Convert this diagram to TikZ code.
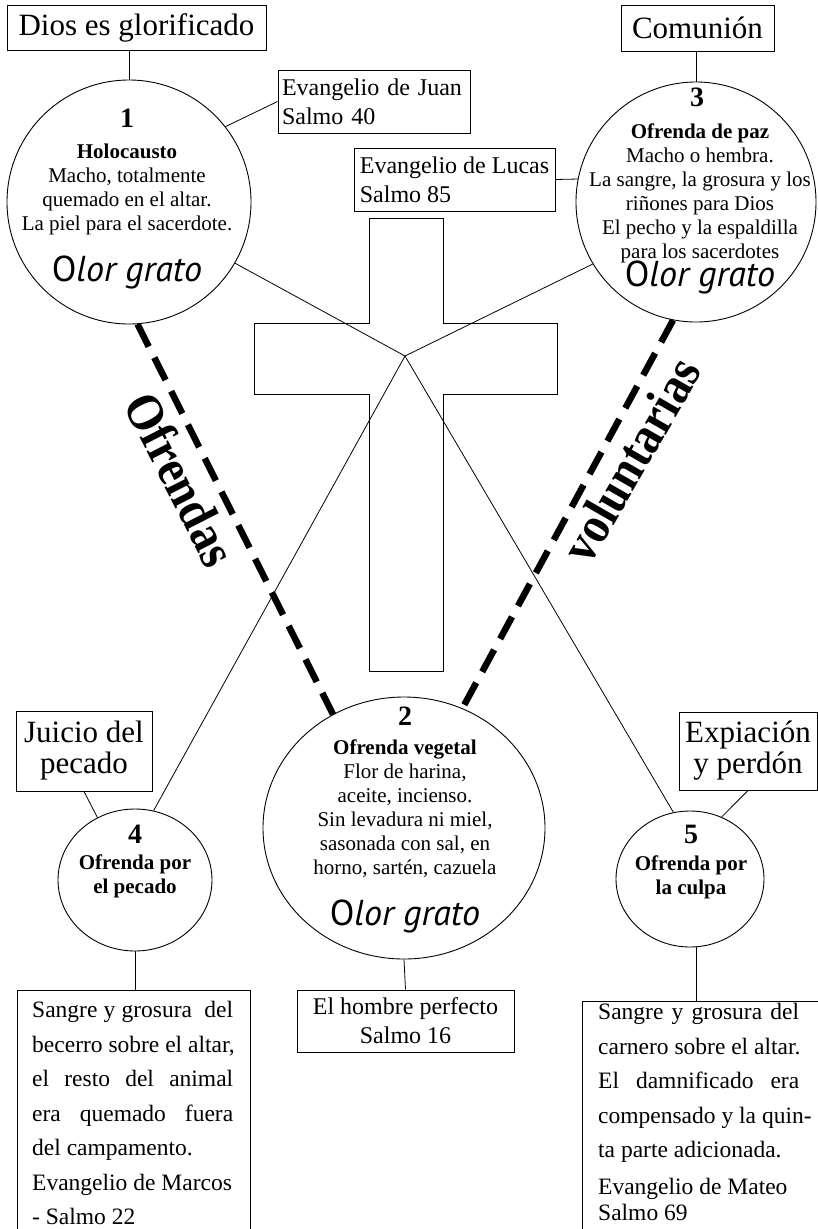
\documentclass[tikz,border=0pt]{standalone}
\usepackage{fontspec}
\setmainfont{Liberation Serif}
\newfontfamily\olorfont{PT Sans}
\usetikzlibrary{shapes.geometric}
\newcommand\jline[1]{\leavevmode\hbox to 201pt{#1}}
\newcommand\widespaces{\spaceskip=0.25em plus 3em\relax}
\begin{document}
\begin{tikzpicture}[x=1pt,y=-1pt,
  thinln/.style={line width=0.8pt},
  box/.style={draw, line width=0.9pt, inner sep=0pt, align=center},
  ring/.style={draw, line width=0.9pt, circle, inner sep=0pt},
  oval/.style={draw, line width=0.9pt, ellipse, inner sep=0pt},
  dashline/.style={line width=6.5pt, dash pattern=on 25pt off 12.5pt},
  num/.style={font=\fontsize{28}{28}\selectfont\bfseries, inner sep=0pt},
  body/.style={font=\fontsize{21}{24}\selectfont, align=center, inner sep=0pt},
  bodybf/.style={font=\fontsize{21}{24}\selectfont\bfseries, align=center, inner sep=0pt},
  olor/.style={font=\olorfont\fontsize{36}{36}\selectfont\itshape, inner sep=0pt},
  big/.style={font=\fontsize{31}{31}\selectfont},
  mid/.style={font=\fontsize{24}{29}\selectfont},
  para/.style={font=\fontsize{23.5}{34.5}\selectfont, text width=230pt, align=left, inner sep=0pt},
  vert/.style={font=\fontsize{52}{52}\selectfont\bfseries, inner sep=0pt}
]
\useasboundingbox (0,0) rectangle (818,1229);
\clip (0,0) rectangle (818,1229);

% cross
\draw[thinln] (369,218) -- (443,218) -- (443,323) -- (557,323) -- (557,394) -- (443,394)
  -- (443,671) -- (369,671) -- (369,394) -- (254,394) -- (254,323) -- (369,323) -- cycle;

% circles
\node[ring, minimum size=244pt] (c1) at (129,202) {};
\node[ring, minimum size=240pt] (c3) at (696,202) {};
\node[oval, minimum width=282pt, minimum height=262pt] (c2) at (404,828) {};
\node[oval, minimum width=154pt, minimum height=142pt] (c4) at (135,880) {};
\node[oval, minimum width=148pt, minimum height=136pt] (c5) at (690,879) {};

% boxes
\node[box, big, minimum width=259pt, minimum height=45pt] (dios) at (136.5,27.5) {Dios es glorificado};
\node[box, big, minimum width=153pt, minimum height=46pt] (comu) at (697.5,28) {Comunión};
\node[box, mid, minimum width=192pt, minimum height=63pt, text width=184pt, align=left] (juan) at (374,101.5) {Evangelio de Juan\\Salmo 40};
\node[box, mid, minimum width=201pt, minimum height=63pt, align=left] (lucas) at (454.5,179.5) {Evangelio de Lucas\\Salmo 85};
\node[box, big, minimum width=136pt, minimum height=80pt] (juicio) at (84,751) {Juicio del\\pecado};
\node[box, big, minimum width=138pt, minimum height=78pt] (expi) at (748,751) {Expiación\\y perdón};
\node[box, mid, minimum width=217pt, minimum height=62pt] (hombre) at (405.5,1021) {El hombre perfecto\\Salmo 16};
\node[draw, line width=0.9pt, inner sep=0pt, minimum width=233pt, minimum height=300pt, anchor=north] (bl) at (133.5,990) {};
\node[draw, line width=0.9pt, inner sep=0pt, minimum width=236pt, minimum height=300pt, anchor=north west] (br) at (582,1001) {};

% texts in circles
\node[num] (n1) at (127,118) {1};
\node[body] (b1) at (127,189) {\textbf{Holocausto}\\Macho, totalmente\\quemado en el altar.\\La piel para el sacerdote.};
\node[olor] (o1) at (127,272) {{\upshape O}lor grato};

\node[num] (n3) at (697,97) {3};
\node[body] (b3) at (700,193) {\textbf{Ofrenda de paz}\\Macho o hembra.\\La sangre, la grosura y los\\riñones para Dios\\El pecho y la espaldilla\\para los sacerdotes};
\node[olor] (o3) at (700,277) {{\upshape O}lor grato};

\node[num] (n2) at (405,716) {2};
\node[body] (b2) at (405,809) {\textbf{Ofrenda vegetal}\\Flor de harina,\\aceite, incienso.\\Sin levadura ni miel,\\sasonada con sal, en\\horno, sartén, cazuela};
\node[olor] (o2) at (405,916) {{\upshape O}lor grato};

\node[num] (n4) at (135,834) {4};
\node[bodybf] (b4) at (135,876) {Ofrenda por\\el pecado};
\node[num] (n5) at (691,834) {5};
\node[bodybf] (b5) at (691,877) {Ofrenda por\\la culpa};

% paragraphs in bottom boxes
\node[para, anchor=north west] (blt) at (32,1001) {\widespaces
\jline{Sangre y grosura\ \ del}\\
\jline{becerro sobre el altar,}\\
\jline{el resto del animal}\\
\jline{era quemado fuera}\\
del campamento.\\
Evangelio de Marcos\\
- Salmo 22};
\node[para, anchor=north west] (brt) at (598,1003) {\widespaces
\jline{Sangre y grosura del}\\
\jline{carnero sobre el altar.}\\
\jline{El damnificado era}\\
\jline{compensado y la quin-}\\
ta parte adicionada.\\[2pt]
Evangelio de Mateo\\[-8pt]
Salmo 69};

% rotated labels
\node[vert, rotate=-63] (ofr) at (181,479) {\scalebox{0.9}[1]{Ofrendas}};
\node[vert, rotate=60] (vol) at (631,460) {\scalebox{0.9}[1]{voluntarias}};

% connectors
\coordinate (P) at (405,356);
\draw[thinln] (c1.-30) -- (P) -- (c5.104);
\draw[thinln] (c3.-149) -- (P) -- (c4.75);
\draw[thinln] (c1.north |- dios.south) -- (c1.north);
\draw[thinln] (c3.north |- comu.south) -- (c3.north);
\draw[thinln] (juan.west) -- (c1.38);
\draw[thinln] (lucas.east) -- (c3.169);
\draw[thinln] (juicio.south) -- (c4.121);
\draw[thinln] (expi.south) -- (c5.63);
\draw[thinln] (c4.south) -- (c4.south |- bl.north);
\draw[thinln] (c5.-85) -- (c5.-85 |- br.north);
\draw[thinln] (c2.south) -- (hombre.north);

% dashed
\draw[dashline] (c1.-86) -- (c2.122);
\draw[dashline] (c3.-101) -- (c2.64);
\end{tikzpicture}
\end{document}
